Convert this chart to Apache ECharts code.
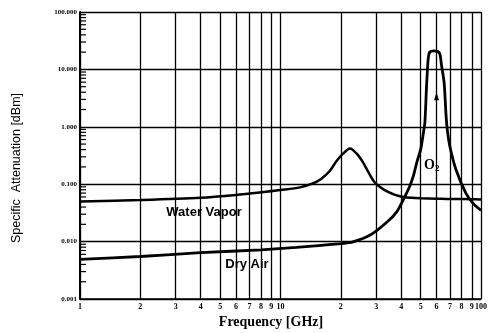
<!DOCTYPE html>
<html>
<head>
<meta charset="utf-8">
<script src="https://cdn.jsdelivr.net/npm/echarts@6/dist/echarts.min.js"></script>
<style>
  html, body { margin: 0; padding: 0; background: #fff; }
  #chart { width: 490px; height: 333px; }
</style>
</head>
<body>
<div id="chart"></div>
<script>
// frequency grid (GHz) and tick labels
const freqTicks = [1, 2, 3, 4, 5, 6, 7, 8, 9, 10, 20, 30, 40, 50, 60, 70, 80, 90, 100];
const attTicks = [0.001, 0.01, 0.1, 1, 10, 100];
const attMinorTicks = [
  0.002, 0.003, 0.004, 0.005, 0.006, 0.007, 0.008, 0.009,
  0.02, 0.03, 0.04, 0.05, 0.06, 0.07, 0.08, 0.09,
  0.2, 0.3, 0.4, 0.5, 0.6, 0.7, 0.8, 0.9,
  2, 3, 4, 5, 6, 7, 8, 9,
  20, 30, 40, 50, 60, 70, 80, 90
];

// water vapor attenuation
const wvFreq = [1, 2, 4, 6, 8.5, 10, 12.5, 14.5, 16, 17.6, 19, 20.5, 22.2, 24, 25.8, 27.5, 29.6, 32, 34, 37, 41, 45, 50, 60, 70, 80, 100];
const wvAtt = [0.050, 0.053, 0.058, 0.065, 0.074, 0.079, 0.088, 0.103, 0.125, 0.17, 0.25, 0.34, 0.42, 0.34, 0.24, 0.16, 0.106, 0.085, 0.075, 0.066, 0.060, 0.058, 0.057, 0.056, 0.055, 0.055, 0.054];

// dry air (oxygen) attenuation
const daFreq = [1, 2, 4, 8, 12, 16, 20, 23, 28, 34, 38, 41, 44, 46, 48, 50, 51.5, 52.5, 53.5, 54.5, 55.5, 58, 61, 62.5, 63.5, 65.5, 67, 68, 70, 75, 84, 92, 100];
const daAtt = [0.0049, 0.0055, 0.0064, 0.0072, 0.0079, 0.0086, 0.0092, 0.0099, 0.013, 0.022, 0.033, 0.054, 0.09, 0.14, 0.25, 0.4, 0.75, 1.2, 5, 15, 20, 21, 20.5, 18, 12, 5.8, 1.5, 0.85, 0.45, 0.18, 0.07, 0.045, 0.035];

const chart = echarts.init(document.getElementById('chart'));

const serif = '"Liberation Serif", "DejaVu Serif", serif';
const sans = '"Liberation Sans", Arial, sans-serif';

chart.setOption({
  animation: false,
  backgroundColor: '#fff',
  grid: { left: 80, right: 9, top: 12, bottom: 34 },
  xAxis: {
    type: 'log',
    min: 1,
    max: 100,
    axisLine: { lineStyle: { color: '#000', width: 1.5 } },
    axisTick: { show: false, customValues: freqTicks },
    axisLabel: {
      customValues: freqTicks,
      color: '#000',
      fontFamily: serif,
      fontWeight: 'bold',
      fontSize: 8,
      margin: 4,
      formatter: v => (v === 10 || v === 100 || v < 10) ? String(v) : String(v / 10)
    },
    splitLine: { show: true, lineStyle: { color: '#000', width: 1.3 } }
  },
  yAxis: {
    type: 'log',
    min: 0.001,
    max: 100,
    axisLine: { show: true, lineStyle: { color: '#000', width: 2 } },
    axisTick: { show: false, customValues: attTicks },
    axisLabel: {
      customValues: attTicks,
      color: '#000',
      fontFamily: serif,
      fontWeight: 'bold',
      fontSize: 7,
      margin: 3,
      formatter: v => v.toFixed(3)
    },
    splitLine: { show: true, lineStyle: { color: '#000', width: 1.3 } }
  },
  series: [{
    name: 'Water Vapor',
    type: 'line',
    data: wvFreq.map((f, i) => [f, wvAtt[i]]),
    showSymbol: false,
    smooth: 0.3,
    lineStyle: { color: '#000', width: 2.5 }
  }, {
    name: 'Dry Air',
    type: 'line',
    data: daFreq.map((f, i) => [f, daAtt[i]]),
    showSymbol: false,
    smooth: 0.25,
    lineStyle: { color: '#000', width: 2.8 },
    markPoint: {
      symbol: 'triangle',
      symbolSize: [5, 8],
      itemStyle: { color: '#000' },
      label: { show: false },
      data: [{ coord: [60, 3.4] }]
    }
  }, {
    // minor ticks on the inside of the left axis
    name: 'minor ticks',
    type: 'custom',
    silent: true,
    clip: false,
    data: attMinorTicks.map(v => [1, v]),
    encode: { x: 0, y: 1 },
    renderItem: (params, api) => {
      const p = api.coord([api.value(0), api.value(1)]);
      return {
        type: 'line',
        shape: { x1: p[0], y1: p[1], x2: p[0] + 6, y2: p[1] },
        style: { stroke: '#000', lineWidth: 1.2 }
      };
    }
  }],
  graphic: [{
    type: 'text',
    x: 17, y: 168,
    rotation: Math.PI / 2,
    style: {
      text: 'Specific  Attenuation [dBm]',
      font: '12.5px ' + sans,
      fill: '#000',
      textAlign: 'center',
      textVerticalAlign: 'middle'
    }
  }, {
    type: 'text',
    x: 271, y: 322,
    style: {
      text: 'Frequency [GHz]',
      font: 'bold 14px ' + serif,
      fill: '#000',
      textAlign: 'center',
      textVerticalAlign: 'middle'
    }
  }, {
    type: 'text',
    x: 204, y: 212,
    style: {
      text: 'Water Vapor',
      font: 'bold 13px ' + sans,
      fill: '#000',
      textAlign: 'center',
      textVerticalAlign: 'middle'
    }
  }, {
    type: 'text',
    x: 247, y: 264,
    style: {
      text: 'Dry Air',
      font: 'bold 13px ' + sans,
      fill: '#000',
      textAlign: 'center',
      textVerticalAlign: 'middle'
    }
  }, {
    type: 'text',
    x: 424, y: 165,
    style: {
      text: 'O{s|2}',
      font: 'bold 14px ' + serif,
      fill: '#000',
      textVerticalAlign: 'middle',
      rich: { s: { font: 'bold 9px ' + serif, fill: '#000', padding: [8, 0, 0, 0] } }
    }
  }]
});
</script>
</body>
</html>
